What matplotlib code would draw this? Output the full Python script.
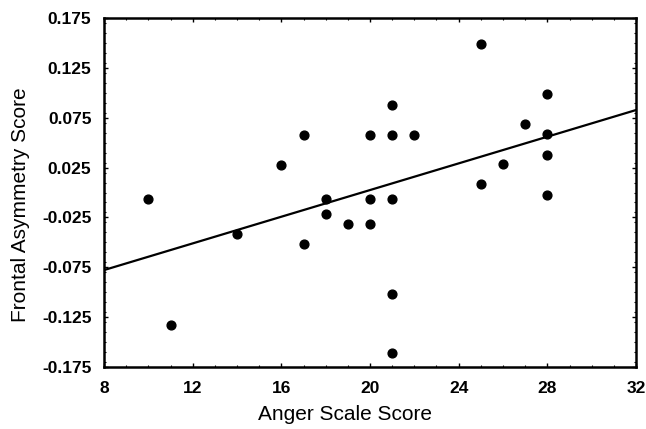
import numpy as np
import matplotlib
matplotlib.use('Agg')
import matplotlib.pyplot as plt
from matplotlib.ticker import MultipleLocator

plt.rcParams['font.family'] = ['Liberation Sans', 'DejaVu Sans']

# Datos
anger = [10, 11, 14, 16, 17, 17, 18, 18, 19, 20, 20, 20, 21, 21, 21, 21, 21,
         22, 25, 25, 26, 27, 28, 28, 28, 28]
asym = [-0.0065, -0.133, -0.042, 0.028, 0.058, -0.052, -0.007, -0.022, -0.032,
        0.058, -0.0065, -0.032, 0.088, 0.058, -0.0065, -0.102, -0.161,
        0.058, 0.149, 0.0085, 0.029, 0.069, 0.099, 0.059, 0.038, -0.0025]

# Recta de regresion (extremos leidos)
linea_x = [8, 32]
linea_y = [-0.0778, 0.0827]

xticks = [8, 12, 16, 20, 24, 28, 32]
yticks = [-0.175, -0.125, -0.075, -0.025, 0.025, 0.075, 0.125, 0.175]

fig = plt.figure(figsize=(6.46, 4.29), dpi=100)
ax = fig.add_axes([104/646, 1 - 367/429, (636-104)/646, (367-18)/429])

ax.plot(linea_x, linea_y, color='black', lw=1.6)
ax.scatter(anger, asym, s=40, color='black', zorder=3)

ax.set_xlim(8, 32)
ax.set_ylim(-0.175, 0.175)
ax.set_xticks(xticks)
ax.set_yticks(yticks)
ax.set_yticklabels([f'{v:.3f}' for v in yticks])
ax.xaxis.set_minor_locator(MultipleLocator(1))
ax.yaxis.set_minor_locator(MultipleLocator(0.01))
ax.tick_params(which='both', direction='in', top=True, right=True)
ax.tick_params(which='major', length=3, width=1, labelsize=12.5)
ax.tick_params(axis='x', which='major', pad=10)
ax.tick_params(axis='y', which='major', pad=9)
ax.tick_params(which='minor', length=1.5, width=0.8)
for lab in ax.get_xticklabels() + ax.get_yticklabels():
    lab.set_fontweight('bold')
for s in ax.spines.values():
    s.set_linewidth(1.8)

ax.set_xlabel('Anger Scale Score', fontsize=15)
ax.set_ylabel('Frontal Asymmetry Score', fontsize=15)
ax.xaxis.set_label_coords(0.453, -0.108)
ax.yaxis.set_label_coords(-0.14, 0.464)

fig.savefig('out.png', dpi=100)
